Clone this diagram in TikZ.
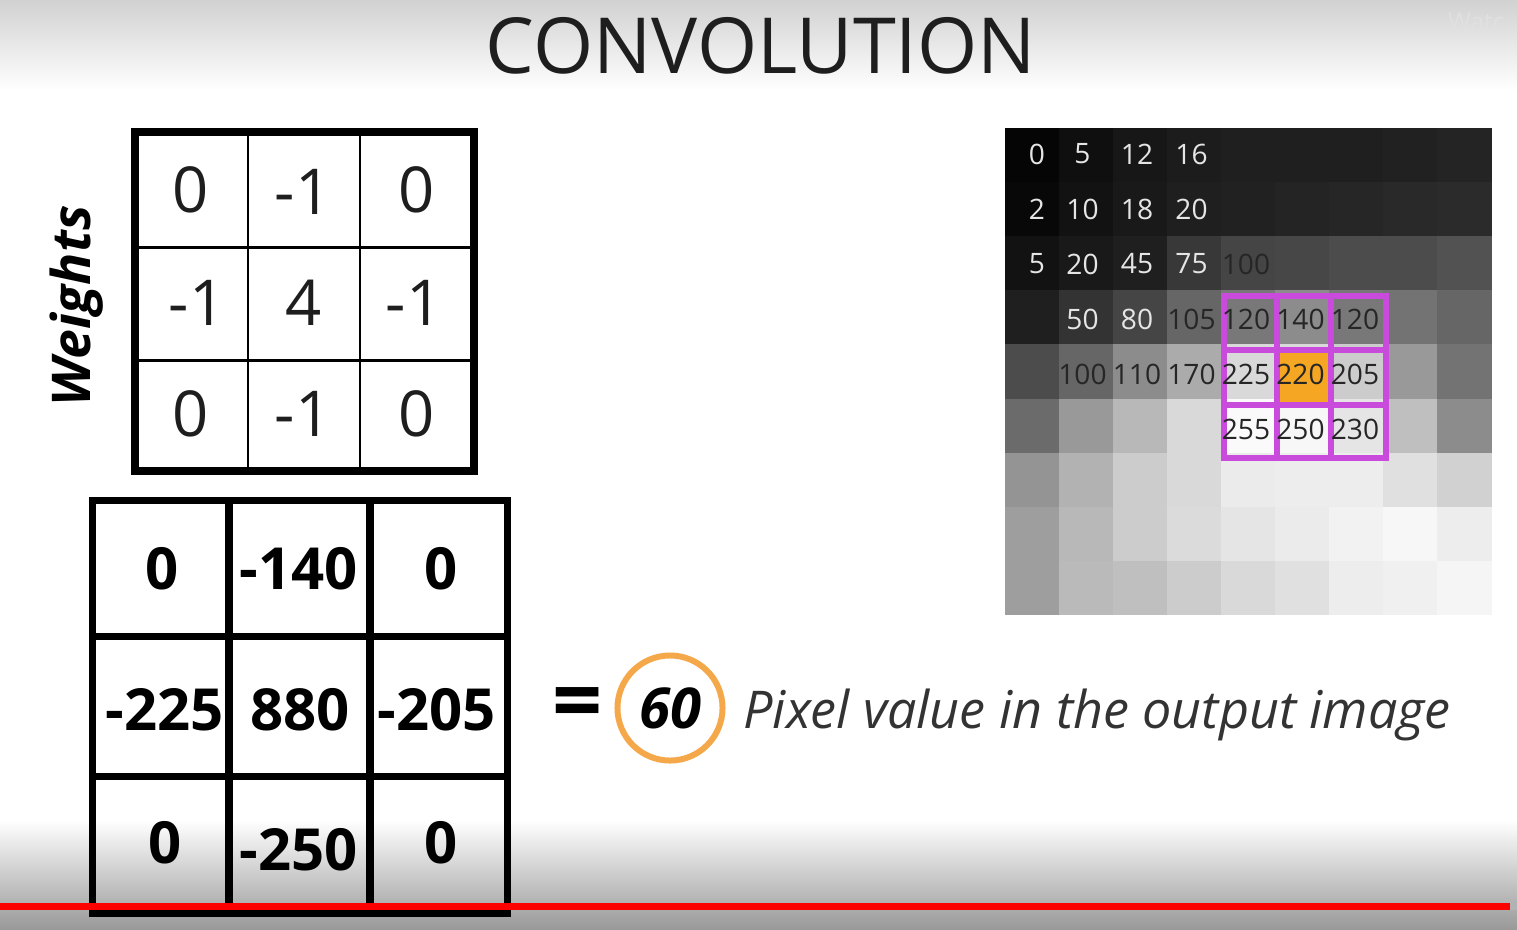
\documentclass[tikz,border=0pt]{standalone}
\usepackage{fontspec}
\setmainfont{Open Sans}
\usetikzlibrary{positioning}
\definecolor{hilite}{HTML}{C94BDB}
\definecolor{amber}{HTML}{F5A623}
\definecolor{ring}{HTML}{F5A84A}
\definecolor{ink}{HTML}{1E1E1E}

\begin{document}
\begin{tikzpicture}[
  x=0.01cm, y=-0.01cm,
  wdigit/.style={font=\fontsize{18}{20}\selectfont, text=ink, inner sep=0pt},
  mdigit/.style={font=\fontsize{16.5}{18}\selectfont\bfseries, text=black, inner sep=0pt},
  pxlight/.style={font=\fontsize{8}{10}\selectfont, text=white!90!black, inner sep=0pt},
  pxdark/.style={font=\fontsize{8}{10}\selectfont, text=black!85, inner sep=0pt},
  thinline/.style={line width=0.85pt},
  frameline/.style={line width=2.3pt},
  boldline/.style={line width=2pt},
]

\useasboundingbox (0,0) rectangle (1517,929);
\clip (0,0) rectangle (1517,929);

% Background
\fill[white] (0,0) rectangle (1517,929);
\shade[top color=black!18, bottom color=white] (0,0) rectangle (1517,90);
\shade[top color=white, middle color=black!12, bottom color=black!40]
  (0,820) rectangle (1517,929);
\node[anchor=north east, font=\fontsize{7}{8}\selectfont, text=black!12] (mark)
  at (1517,0) {Watc};

% Title
\node[anchor=base, font=\fontsize{22}{24}\selectfont, text=ink] (title)
  at (761,73) {CONVOLUTION};

% =============================================
% Weights grid
% =============================================

\node[rotate=90, font=\fontsize{15.2}{16}\selectfont\bfseries\itshape, text=black]
  (wlabel) at (77,306) {Weights};

\draw[frameline] (135,132) rectangle (474,471);
\draw[thinline] (248,132) -- (248,471);
\draw[thinline] (360,132) -- (360,471);
\draw[thinline] (135,247) -- (474,247);
\draw[thinline] (135,360) -- (474,360);

\node[wdigit] (w11) at (191,190) {0};
\node[wdigit] (w12) at (303,192) {-1};
\node[wdigit] (w13) at (417,190) {0};
\node[wdigit] (w21) at (197,303) {-1};
\node[wdigit] (w22) at (304,303) {4};
\node[wdigit] (w23) at (414,303) {-1};
\node[wdigit] (w31) at (191,414) {0};
\node[wdigit] (w32) at (303,414) {-1};
\node[wdigit] (w33) at (417,414) {0};

% =============================================
% Products grid
% =============================================

\draw[boldline] (92.5,500.5) rectangle (507.5,913.5);
\draw[boldline] (229,500) -- (229,914);
\draw[boldline] (370,500) -- (370,914);
\draw[boldline] (92,636) -- (508,636);
\draw[boldline] (92,776) -- (508,776);

\node[mdigit] (m11) at (162,569) {0};
\node[mdigit] (m12) at (299,569) {-140};
\node[mdigit] (m13) at (441,569) {0};
\node[mdigit] (m21) at (165,710) {-225};
\node[mdigit] (m22) at (300,710) {880};
\node[mdigit] (m23) at (437,710) {-205};
\node[mdigit] (m31) at (165,843) {0};
\node[mdigit] (m32) at (299,850) {-250};
\node[mdigit] (m33) at (441,843) {0};

% =============================================
% Result
% =============================================

\node[circle, draw=ring, line width=1.7pt, minimum size=1.05cm, inner sep=0pt,
  font=\fontsize{16}{18}\selectfont\bfseries\itshape] (res) at (670,708) {60};
\node[font=\fontsize{25}{27}\selectfont\bfseries, inner sep=0pt] (eq)
  at (578,710) {=};
\node[anchor=base west, font=\fontsize{14.8}{16}\selectfont\itshape, text=black!80]
  (caption) at (731,728) {Pixel value in the output image};

% =============================================
% Input image
% =============================================

\foreach \row [count=\r from 0] in {
  {2,6,9,11,12,12,12,13,14},
  {3,7,10,12,13,14,15,16,17},
  {7,10,12,22,27,28,30,30,32},
  {12,20,27,40,47,55,47,45,40},
  {30,40,55,67,85,85,80,60,45},
  {42,60,72,85,98,97,90,75,55},
  {58,70,80,85,92,93,93,88,82},
  {62,72,80,86,90,92,95,97,93},
  {62,73,75,80,85,88,93,94,96}}
  \foreach \g [count=\c from 0] in \row
    \fill[white!\g!black] ({1005+54*\c},{128+54.1*\r})
      rectangle ({1059.5+54*\c},{182.6+54.1*\r});

% Centre pixel
\fill[amber] (1276,350) rectangle (1331,405);

% Window
\draw[hilite, line width=1.5pt] (1224,296) rectangle (1386,458);
\draw[hilite, line width=1.5pt] (1277,296) -- (1277,458);
\draw[hilite, line width=1.5pt] (1331,296) -- (1331,458);
\draw[hilite, line width=1.5pt] (1224,350) -- (1386,350);
\draw[hilite, line width=1.5pt] (1224,405) -- (1386,405);

% Pixel values
\foreach \c/\r/\v in {0/0/0, 1/0/5, 2/0/12, 3/0/16,
                      0/1/2, 1/1/10, 2/1/18, 3/1/20,
                      0/2/5, 1/2/20, 2/2/45, 3/2/75,
                      1/3/50, 2/3/80}
  \node[pxlight] (px\c\r) at ({1028+54.5*\c+9*(\c==0)},{154+55*\r}) {\v};
\foreach \c/\r/\v in {4/2/100, 3/3/105, 4/3/120, 5/3/140, 6/3/120,
                      1/4/100, 2/4/110, 3/4/170, 4/4/225, 5/4/220, 6/4/205,
                      4/5/255, 5/5/250, 6/5/230}
  \node[pxdark] (px\c\r) at ({1028+54.5*\c},{154+55*\r}) {\v};

% Progress bar
\fill[red] (0,903) rectangle (1510,910);
\fill[black!30] (1510,903) rectangle (1517,910);

\end{tikzpicture}
\end{document}
